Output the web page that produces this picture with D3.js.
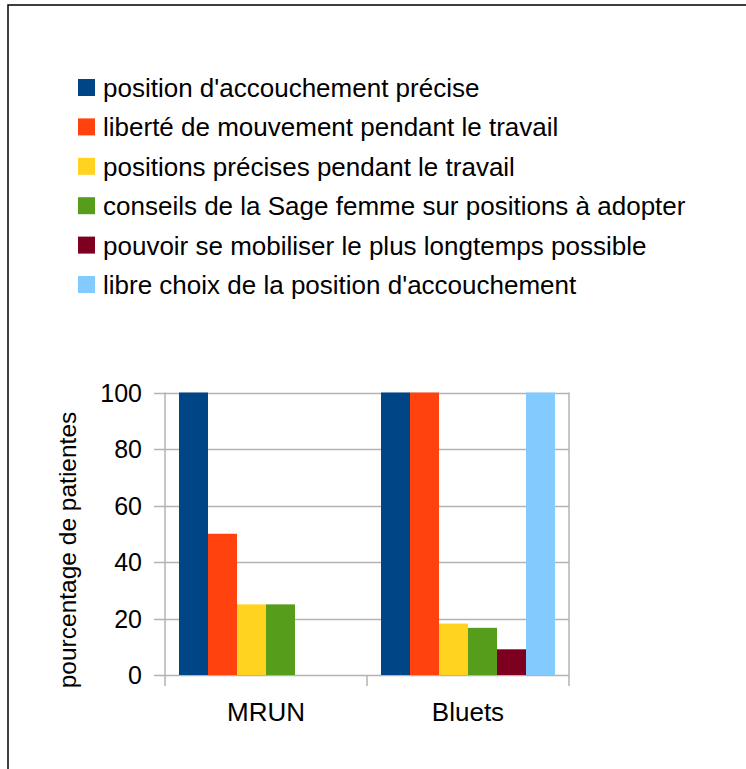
<!DOCTYPE html>
<html><head><meta charset="utf-8">
<script src="https://cdn.jsdelivr.net/npm/d3@7"></script>
<style>body{margin:0;background:#fff}svg{display:block}text{font-family:"Liberation Sans",Arial,sans-serif;fill:#000}</style>
</head><body>
<script>
const categories = ["MRUN", "Bluets"];
const seriesNames = [
  "position d'accouchement précise",
  "liberté de mouvement pendant le travail",
  "positions précises pendant le travail",
  "conseils de la Sage femme sur positions à adopter",
  "pouvoir se mobiliser le plus longtemps possible",
  "libre choix de la position d'accouchement"
];
const seriesColors = ["#004586", "#ff420e", "#ffd320", "#579d1c", "#7e0021", "#83caff"];
const valuesMRUN = [100, 50, 25, 25, 0, 0];
const valuesBluets = [100, 100, 18.2, 16.7, 9.1, 100];
const yTicks = [0, 20, 40, 60, 80, 100];
const yTitle = "pourcentage de patientes";

const W = 746, H = 769;
const svg = d3.select("body").append("svg").attr("width", W).attr("height", H);

// frame
svg.append("path").attr("d", `M8,${H} L8,5 L${W},5`).attr("fill", "none").attr("stroke", "#000").attr("stroke-width", 1.5);

// legend
const leg = svg.append("g");
seriesNames.forEach((name, i) => {
  const y = 97 + i * 39.4;
  leg.append("rect").attr("x", 78).attr("y", y - 18).attr("width", 17).attr("height", 17).attr("fill", seriesColors[i]);
  leg.append("text").attr("x", 103).attr("y", y).attr("font-size", 26).text(name);
});

// plot
const x0 = 165, x1 = 569, yTop = 392.5, yBot = 675;
const x = d3.scaleBand().domain(categories).range([x0, x1]).paddingInner(0).paddingOuter(0);
const y = d3.scaleLinear().domain([0, 100]).range([yBot, yTop]);
const data = { MRUN: valuesMRUN, Bluets: valuesBluets };
const barW = 29;
const xs = d3.scaleBand().domain(d3.range(seriesNames.length)).range([0, barW * seriesNames.length]);

// gridlines
svg.append("g").selectAll("line").data(yTicks).join("line")
  .attr("x1", 154).attr("x2", x1).attr("y1", d => Math.round(y(d)) + 0.5).attr("y2", d => Math.round(y(d)) + 0.5)
  .attr("stroke", "#b3b3b3").attr("stroke-width", 1.5);

// bars
const g = svg.append("g");
categories.forEach(c => {
  const off = x(c) + (x.bandwidth() - barW * seriesNames.length) / 2;
  data[c].forEach((v, i) => {
    if (v <= 0) return;
    g.append("rect").attr("x", off + xs(i)).attr("width", xs.bandwidth())
      .attr("y", y(v)).attr("height", yBot - y(v)).attr("fill", seriesColors[i]);
  });
});

// axis lines and ticks
const ax = svg.append("g").attr("stroke", "#b3b3b3").attr("stroke-width", 1.5);
ax.append("line").attr("x1", x0).attr("x2", x0).attr("y1", yTop).attr("y2", 686);
ax.append("line").attr("x1", x1).attr("x2", x1).attr("y1", yTop).attr("y2", 686);
ax.append("line").attr("x1", x(categories[1])).attr("x2", x(categories[1])).attr("y1", yBot).attr("y2", 686);

// y labels
svg.append("g").selectAll("text").data(yTicks).join("text")
  .attr("x", 142).attr("y", d => y(d) + 9).attr("text-anchor", "end").attr("font-size", 25).text(d => d);

// category labels
svg.append("g").selectAll("text").data(categories).join("text")
  .attr("x", d => x(d) + x.bandwidth() / 2).attr("y", 720.5).attr("text-anchor", "middle").attr("font-size", 26).text(d => d);

// y title
svg.append("text").attr("transform", "translate(76,550) rotate(-90)").attr("text-anchor", "middle").attr("font-size", 24.5).text(yTitle);
</script>
</body></html>
